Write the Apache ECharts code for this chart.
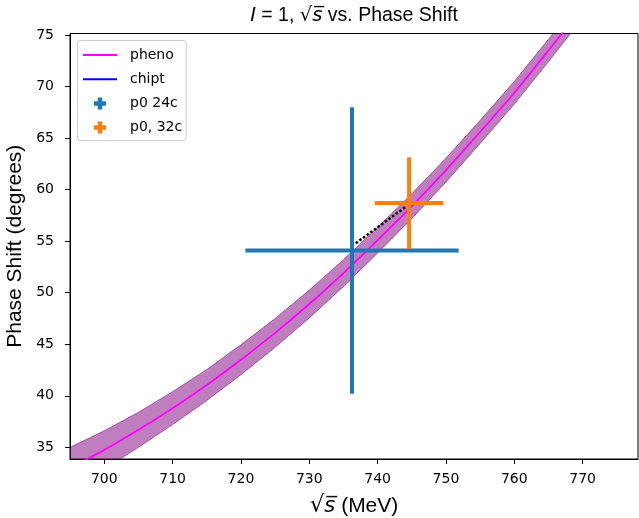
<!DOCTYPE html>
<html><head><meta charset="utf-8">
<script src="https://cdn.jsdelivr.net/npm/echarts@6/dist/echarts.min.js"></script>
<style>html,body{margin:0;padding:0;background:#fff}#c{width:639px;height:518px}</style>
</head><body><div id="c"></div>
<script>
// pheno curve
const phenoX = [690, 695, 700, 705, 710, 715, 720, 725, 730, 735, 740, 745, 750, 755, 760, 765, 770, 775, 780];
const phenoY = [31.4, 33.0, 34.75, 36.7, 38.8, 41.05, 43.5, 46.1, 48.9, 51.9, 55.1, 58.4, 61.9, 65.6, 69.4, 73.5, 77.7, 82.0, 86.5];
const phenoErr = [2.1, 2.0, 1.85, 1.7, 1.6, 1.5, 1.45, 1.4, 1.35, 1.3, 1.25, 1.2, 1.15, 1.12, 1.1, 1.08, 1.05, 1.05, 1.05];
// chipt curve (no points visible in range)
const chiptX = [];
const chiptY = [];
// error-bar points
const pointNames = ['p0 24c', 'p0, 32c'];
const pointX = [736.25, 744.6];
const pointY = [54.1, 58.7];
const pointXErr = [15.6, 5.0];
const pointYErr = [13.9, 4.45];
// dotted arrow between the two points
const arrowX = [736.8, 744.15];
const arrowY = [54.8, 58.35];
// ticks
const xTicks = [700, 710, 720, 730, 740, 750, 760, 770];
const yTicks = [35, 40, 45, 50, 55, 60, 65, 70, 75];

const colors = {pheno: '#ff00ff', chipt: '#0000ff', p24: '#1f77b4', p32: '#ff7f0e'};
const plusPath = 'path://M3.75,0H8.25V3.75H12V8.25H8.25V12H3.75V8.25H0V3.75H3.75Z';
const linePath = 'path://M0,0H34V2H0Z';

const chart = echarts.init(document.getElementById('c'), null, {renderer: 'canvas'});

function clipRect(params) {
  const c = params.coordSys;
  return {type: 'rect', shape: {x: c.x, y: c.y, width: c.width, height: c.height}};
}

function errBarSeries(i, color) {
  return {
    type: 'custom', name: pointNames[i], coordinateSystem: 'cartesian2d', clip: true,
    color: color, itemStyle: {color: color},
    data: [[pointX[i], pointY[i], pointXErr[i], pointYErr[i]]],
    encode: {x: 0, y: 1},
    renderItem: function (params, api) {
      const x = api.value(0), y = api.value(1), xe = api.value(2), ye = api.value(3);
      const l = api.coord([x - xe, y]), r = api.coord([x + xe, y]);
      const t = api.coord([x, y + ye]), b = api.coord([x, y - ye]);
      return {
        type: 'group',
        children: [
          {type: 'line', shape: {x1: l[0], y1: l[1], x2: r[0], y2: r[1]}, style: {stroke: color, lineWidth: 4}},
          {type: 'line', shape: {x1: t[0], y1: t[1], x2: b[0], y2: b[1]}, style: {stroke: color, lineWidth: 4}}
        ]
      };
    },
    z: 5
  };
}

const option = {
  animation: false,
  backgroundColor: '#ffffff',
  title: {
    text: '{i|I} = 1, {r|√}{i|s\u0305} vs. Phase Shift',
    left: 354, top: 6, padding: 0, textAlign: 'center',
    textStyle: {
      fontFamily: 'Liberation Sans', fontSize: 19.5, fontWeight: 'normal', color: '#000',
      rich: {
        i: {fontFamily: 'DejaVu Sans', fontStyle: 'italic', fontSize: 19.5, color: '#000'},
        r: {fontFamily: 'DejaVu Sans', fontSize: 19.5, color: '#000'}
      }
    }
  },
  grid: {left: 70, right: 1, top: 33.5, bottom: 59, show: true, borderColor: '#000', borderWidth: 1, containLabel: false, outerBoundsMode: 'none'},
  legend: {
    orient: 'vertical', left: 77.5, top: 40.5,
    padding: [7.5, 4, 6, 5.5], itemGap: 10.2, itemWidth: 34, itemHeight: 12,
    backgroundColor: 'rgba(255,255,255,0.8)', borderColor: '#cccccc', borderWidth: 1, borderRadius: 3,
    textStyle: {fontFamily: 'DejaVu Sans', fontSize: 14, color: '#000', padding: [0, 0, 0, 8]},
    selectedMode: false,
    data: [
      {name: 'pheno', icon: linePath, itemStyle: {color: colors.pheno, borderWidth: 0}},
      {name: 'chipt', icon: linePath, itemStyle: {color: colors.chipt, borderWidth: 0}},
      {name: pointNames[0], icon: plusPath, itemStyle: {color: colors.p24, borderWidth: 0}},
      {name: pointNames[1], icon: plusPath, itemStyle: {color: colors.p32, borderWidth: 0}}
    ]
  },
  xAxis: {
    type: 'value', min: 694.98, max: 778.1,
    axisLine: {show: true, onZero: false, lineStyle: {color: '#000', width: 1}},
    axisTick: {show: true, customValues: xTicks, length: 5, lineStyle: {color: '#000', width: 1}},
    axisLabel: {customValues: xTicks, fontFamily: 'DejaVu Sans', fontSize: 14, color: '#000', margin: 13},
    splitLine: {show: false},
    name: '{r|√}{i|s\u0305} (MeV)', nameLocation: 'middle', nameGap: 36,
    nameTextStyle: {fontFamily: 'Liberation Sans', fontSize: 21, color: '#000',
      rich: {
        i: {fontFamily: 'DejaVu Sans', fontStyle: 'italic', fontSize: 21, color: '#000'},
        r: {fontFamily: 'DejaVu Sans', fontSize: 23, color: '#000'}
      }}
  },
  yAxis: {
    type: 'value', min: 33.865, max: 75.145,
    axisLine: {show: true, onZero: false, lineStyle: {color: '#000', width: 1}},
    axisTick: {show: true, customValues: yTicks, length: 5, lineStyle: {color: '#000', width: 1}},
    axisLabel: {customValues: yTicks, fontFamily: 'DejaVu Sans', fontSize: 14, color: '#000', margin: 16},
    splitLine: {show: false},
    name: 'Phase Shift (degrees)', nameLocation: 'middle', nameGap: 41, nameRotate: 90,
    nameTextStyle: {fontFamily: 'Liberation Sans', fontSize: 21, color: '#000'}
  },
  series: [
    {
      type: 'custom', name: 'band', coordinateSystem: 'cartesian2d', clip: true, silent: true,
      data: [[735, 52]], encode: {x: 0, y: 1},
      renderItem: function (params, api) {
        const pts = [];
        for (let i = 0; i < phenoX.length; i++) pts.push(api.coord([phenoX[i], phenoY[i] + phenoErr[i]]));
        for (let i = phenoX.length - 1; i >= 0; i--) pts.push(api.coord([phenoX[i], phenoY[i] - phenoErr[i]]));
        return {
          type: 'polygon', shape: {points: pts},
          style: {fill: 'rgba(128,0,128,0.5)', stroke: 'rgba(128,0,128,0.55)', lineWidth: 1},
          clipPath: clipRect(params)
        };
      },
      z: 1
    },
    {
      type: 'line', name: 'pheno', color: colors.pheno, showSymbol: false, symbol: 'none', smooth: 0.3, clip: true,
      data: phenoX.map((x, i) => [x, phenoY[i]]),
      lineStyle: {color: colors.pheno, width: 1.8}, z: 3
    },
    {
      type: 'line', name: 'chipt', color: colors.chipt, showSymbol: false, symbol: 'none', clip: true,
      data: chiptX.map((x, i) => [x, chiptY[i]]),
      lineStyle: {color: colors.chipt, width: 1.8}, z: 3
    },
    errBarSeries(0, colors.p24),
    errBarSeries(1, colors.p32),
    {
      type: 'line', name: 'arrow', showSymbol: false, symbol: 'none', clip: true, silent: true,
      data: arrowX.map((x, i) => [x, arrowY[i]]),
      lineStyle: {color: '#000', width: 2.5, type: [2.5, 2]}, z: 6
    }
  ]
};
chart.setOption(option);
</script>
</body></html>
